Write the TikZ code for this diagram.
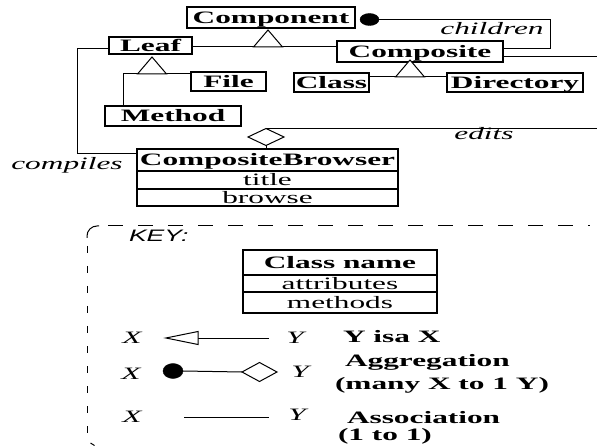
\documentclass[tikz,border=0pt]{standalone}
\usepackage{fontspec}
\setmainfont{Liberation Serif}[FakeStretch=1.8]
\newfontfamily\keyfont{Liberation Sans}[FakeStretch=1.6]
\usetikzlibrary{shapes.geometric}

\begin{document}
\begin{tikzpicture}[x=1pt,y=-1pt,
  every node/.style={inner sep=0pt, outer sep=0pt},
  cls/.style={draw, line width=1.2pt, font=\fontsize{17.4}{20}\selectfont\bfseries,
              text height=11.5pt, text depth=0pt},
  row/.style={draw, line width=1.2pt, font=\fontsize{17.4}{20}\selectfont,
              text height=11.5pt, text depth=0pt},
  link/.style={line width=1pt},
  lbl/.style={font=\fontsize{17.4}{20}\selectfont\itshape, anchor=base},
  keytxt/.style={font=\fontsize{17.4}{20}\selectfont\bfseries, anchor=base west},
  keyline/.style={line width=1pt},
  isa/.pic={\draw[link, fill=white] (0,0) -- (14.5,17) -- (-14.5,17) -- cycle;},
]
\path[use as bounding box, clip] (0,0) rectangle (597,446);

% ---------- classes ----------
\node[cls, minimum width=168pt, minimum height=21pt] (component) at (271,17.5) {Component};
\node[cls, minimum width=83pt,  minimum height=17pt] (leaf)      at (150.5,45.5) {Leaf};
\node[cls, minimum width=166pt, minimum height=21pt] (composite) at (420,51.5) {Composite};
\node[cls, minimum width=75pt,  minimum height=19pt] (file)      at (228.5,81.5) {File};
\node[cls, minimum width=136pt, minimum height=20pt] (method)    at (173,116) {Method};
\node[cls, minimum width=75pt,  minimum height=19pt] (class)     at (331.5,82.5) {Class};
\node[cls, minimum width=136pt, minimum height=19pt] (directory) at (515,82.5) {Directory};

% CompositeBrowser with its two compartments
\node[cls, minimum width=261pt, minimum height=22pt] (bname)   at (267.5,160) {CompositeBrowser};
\node[row, minimum width=261pt, minimum height=18pt] (btitle)  at (267.5,180) {title};
\node[row, minimum width=261pt, minimum height=17pt] (bbrowse) at (267.5,197.5) {browse};

% ---------- Component <|- Leaf, Composite ----------
\coordinate (g1) at (268,47);
\draw[link] (leaf.east |- g1) -- (composite.west |- g1);
\pic at (268,30) {isa};

% ---------- children aggregation ----------
\node[draw, fill=black, ellipse, minimum width=19pt, minimum height=12pt] (dot1) at (369.5,19.5) {};
\coordinate (ch) at (550,49);
\draw[link] (dot1.east) -| (ch) -- (composite.east |- ch);
\coordinate (rt1) at (597,57);
\draw[link] (composite.east |- rt1) -- (rt1);

% ---------- Composite <|- Class, Directory ----------
\coordinate (g2) at (410,77);
\draw[link] (class.east |- g2) -- (directory.west |- g2);
\pic at (410,60) {isa};

% ---------- Leaf <|- File, Method ----------
\coordinate (lk) at (123,74);
\draw[link] (method.north -| lk) -- (lk) -- (lk -| file.west);
\pic at (152,57) {isa};

% ---------- compiles ----------
\coordinate (c1) at (77,49);
\coordinate (c2) at (77,154);
\draw[link] (leaf.west |- c1) -- (c1) -- (c2) -- (bname.west |- c2);
\node[lbl] (lcompiles) at (67,170) {compiles};

% ---------- edits ----------
\node[draw, diamond, line width=1pt, fill=white, minimum width=36pt, minimum height=17pt] (agg) at (266,137) {};
\draw[link] (agg.south) -- (bname.north -| agg.south);
\coordinate (rt2) at (597,128);
\draw[link] (agg.north) -- (agg.north -| rt2);

\node[lbl] (lchildren) at (492,35) {children};
\node[lbl] (ledits) at (484,140) {edits};

% ---------- key frame ----------
\draw[keyline, rounded corners=10pt] (87,238) -- (87,226) -- (99,226);
\draw[keyline, dash pattern=on 15pt off 15pt] (108,226) -- (590,226);
\draw[keyline, dash pattern=on 7pt off 13pt] (87,246) -- (87,436);
\draw[keyline] (90.5,443) -- (94.5,445.5);
\node[font=\keyfont\itshape\fontsize{16.6}{18}\selectfont, anchor=base west] (keyhead) at (129,242) {KEY:};

% class box legend
\node[cls, minimum width=194pt, minimum height=25pt] (kname)  at (340,262.5) {Class name};
\node[row, minimum width=194pt, minimum height=17pt] (kattr)  at (340,283.5) {attributes};
\node[row, minimum width=194pt, minimum height=21pt] (kmeth)  at (340,302.5) {methods};

% isa legend
\node[lbl] (x1) at (132,344) {X};
\node[lbl] (y1) at (295,343) {Y};
\coordinate (k1a) at (198,338);
\coordinate (k1b) at (269,338);
\draw[link] (k1b) -- (k1a);
\draw[link, fill=white] (166,338) -- (198,331.5) -- (198,344.5) -- cycle;
\node[keytxt] (t1) at (343,342) {Y isa X};

% aggregation legend
\node[lbl] (x2) at (131,379) {X};
\node[lbl] (y2) at (300,377.5) {Y};
\node[draw, fill=black, ellipse, minimum width=20pt, minimum height=15pt] (kdot) at (173,371) {};
\node[draw, diamond, line width=1pt, fill=white, minimum width=35pt, minimum height=19pt] (kdia) at (259.5,372) {};
\draw[link] (kdot.east) -- (kdia.west);
\node[keytxt] (t2) at (345,366) {Aggregation};
\node[keytxt] (t2b) at (335,389) {(many X to 1 Y)};

% association legend
\node[lbl] (x3) at (132,422) {X};
\node[lbl] (y3) at (297,420) {Y};
\coordinate (k3a) at (184,417);
\coordinate (k3b) at (269,417);
\draw[link] (k3a) -- (k3b);
\node[keytxt] (t3) at (347,423) {Association};
\node[keytxt] (t3b) at (338,440) {(1 to 1)};
\end{tikzpicture}
\end{document}
